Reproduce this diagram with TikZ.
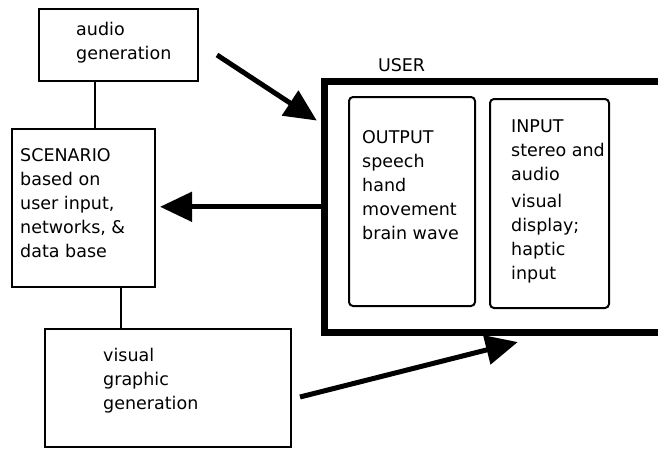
\documentclass[tikz,border=0pt]{standalone}
\usepackage{fontspec}
\setmainfont{DejaVu Sans}
\usetikzlibrary{arrows.meta, positioning}

\begin{document}
\begin{tikzpicture}[x=1pt, y=-1pt, font=\fontsize{17.5}{24}\selectfont,
  box/.style={draw, rectangle, line width=2pt, inner sep=0pt},
  pane/.style={box, rounded corners=4pt},
  txt/.style={anchor=base west, align=left, inner sep=0pt},
  fat/.style={line width=5pt, -{Triangle[length=32pt, width=29pt]}}]

\clip (0,0) rectangle (658,450);

% boxes
\node[box, minimum width=159pt, minimum height=72pt] (audio) at (118.5,45) {};
\node[box, minimum width=143pt, minimum height=158pt] (scenario) at (83.5,208) {};
\node[box, minimum width=246pt, minimum height=118pt] (visual) at (168,388) {};
\node[draw, rectangle, line width=7pt, minimum width=400pt, minimum height=251.5pt] (user) at (524.3,206.8) {};
\node[pane, minimum width=126pt, minimum height=209pt] (output) at (412,201.5) {};
\node[pane, minimum width=119pt, minimum height=209pt] (input) at (549.5,203.5) {};

% texts (base = last line)
\node[txt] (audiotxt) at ([shift={(38,51)}]audio.north west) {audio\\generation};
\node[txt] (scentxt) at ([shift={(9,129)}]scenario.north west) {SCENARIO\\based on\\user input,\\networks, \&\\data base};
\node[txt] (vistxt) at ([shift={(59,81)}]visual.north west) {visual\\graphic\\generation};
\node[txt] (usertxt) at ([shift={(57,-6)}]user.north west) {USER};
\node[txt] (outtxt) at ([shift={(14,143)}]output.north west) {OUTPUT\\speech\\hand\\movement\\brain wave};
\node[txt] (intxt) at ([shift={(22,181)}]input.north west) {INPUT\\stereo and\\audio\\[3pt]visual\\display;\\haptic\\input};

% connectors
\draw[line width=2pt] ([xshift=-23.5pt]audio.south) -- ([xshift=-23.5pt]audio.south |- scenario.north);
\draw[line width=2pt] ([xshift=37.5pt]scenario.south) -- ([xshift=37.5pt]scenario.south |- visual.north);

\coordinate (a1) at ([shift={(18,10)}]audio.east);
\coordinate (t1) at ([shift={(-4,43)}]user.north west);
\coordinate (a3) at ([shift={(8,9)}]visual.east);
\coordinate (t3) at ([shift={(197,6)}]user.south west);

\draw[fat] (a1) -- (t1);
\draw[fat, shorten >=4pt] (user.west) -- (user.west -| scenario.east);
\draw[fat] (a3) -- (t3);

\end{tikzpicture}
\end{document}
